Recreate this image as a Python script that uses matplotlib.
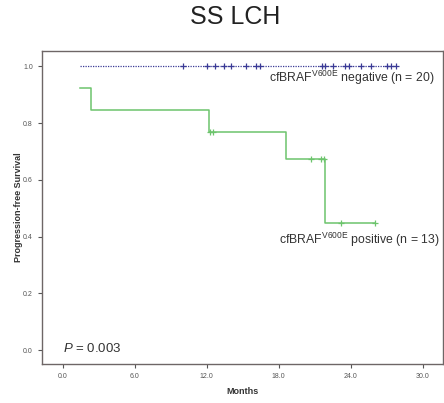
import matplotlib.pyplot as plt
import numpy as np

plt.rcParams['font.family'] = ['Liberation Sans', 'DejaVu Sans']
plt.rcParams['mathtext.fontset'] = 'custom'
plt.rcParams['mathtext.rm'] = 'Liberation Sans'
plt.rcParams['mathtext.it'] = 'Liberation Sans:italic'

# positive group: step curve (times, survival) and censored times
pos_times = [1.4, 2.3, 12.17, 18.6, 21.9, 26.0]
pos_surv = [0.922, 0.845, 0.767, 0.673, 0.449, 0.449]
pos_cens_t = [12.25, 12.55, 20.7, 21.5, 21.75, 23.2, 26.0]
pos_cens_s = [0.767, 0.767, 0.673, 0.673, 0.673, 0.449, 0.449]

# negative group: stays at 1.0
neg_start, neg_end = 1.4, 27.9
neg_cens_t = [10.0, 12.0, 12.7, 13.4, 14.0, 15.3, 16.1, 16.4, 21.6, 21.9,
              22.5, 23.5, 23.9, 24.9, 25.7, 27.0, 27.4, 27.8]

xticks = [0, 6, 12, 18, 24, 30]
yticks = [0.0, 0.2, 0.4, 0.6, 0.8, 1.0]


def main():
    fig = plt.figure(figsize=(4.44, 4.03), dpi=100)
    ax = fig.add_axes([0.0946, 0.0968, 0.903, 0.776])

    green = '#6cc46c'
    blue = '#3a3a96'

    ax.step(pos_times, pos_surv, where='post', color=green, lw=1.1)
    ax.plot(pos_cens_t, pos_cens_s, '+', color=green, ms=4, mew=0.9)

    ax.plot([neg_start, neg_end], [1.0, 1.0], color=blue, lw=0.9, ls=(0, (1, 1)))
    ax.plot(neg_cens_t, [1.0] * len(neg_cens_t), '+', color=blue, ms=4, mew=0.9)

    ax.set_xlim(-1.75, 31.7)
    ax.set_ylim(-0.049, 1.053)
    ax.set_xticks(xticks)
    ax.set_xticklabels(['%.1f' % t for t in xticks])
    ax.set_yticks(yticks)
    ax.set_yticklabels(['%.1f' % t for t in yticks])
    ax.tick_params(labelsize=5, colors='#555555', length=3, width=0.8)

    for s in ax.spines.values():
        s.set_color('#6e6666')
        s.set_linewidth(1.0)

    ax.set_xlabel('Months', fontsize=6.5, fontweight='bold', color='#333333', labelpad=5)
    ax.set_ylabel('Progression-free Survival', fontsize=6.5, fontweight='bold',
                  color='#333333', labelpad=0)

    ax.text(31.0, 0.96, r'cfBRAF$^{\mathrm{V600E}}$ negative (n = 20)',
            fontsize=8.8, ha='right', va='center', color='#333333')
    ax.text(31.4, 0.39, r'cfBRAF$^{\mathrm{V600E}}$ positive (n = 13)',
            fontsize=8.8, ha='right', va='center', color='#333333')
    ax.text(0.0, 0.006, r'$\mathit{P}$ = 0.003', fontsize=9.5, ha='left',
            va='center', color='#333333')

    fig.text(235 / 444, 1 - 17 / 403, 'SS LCH', fontsize=18, ha='center',
             va='center', color='#222222')

    fig.savefig('out.png', dpi=100)


if __name__ == "__main__":
    main()
